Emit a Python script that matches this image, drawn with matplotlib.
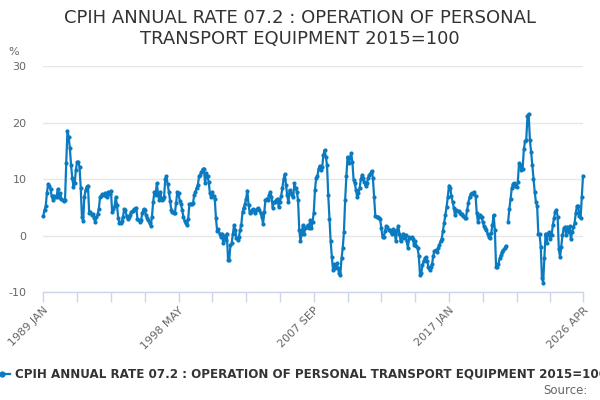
import matplotlib
matplotlib.use("Agg")
import matplotlib.pyplot as plt
from matplotlib.lines import Line2D
import numpy as np
import pandas as pd

# ---- data (monthly annual rate, %) ----
first_month = "1989-01"
values_1989_1995 = [
    3.5, 4.6, 5.2, 7.6, 9.2, 8.8, 8.2, 7.0, 6.4, 7.1, 6.8, 6.9,
    8.3, 6.8, 7.6, 6.5, 6.3, 6.2, 6.4, 12.9, 18.6, 17.5, 15.5, 12.5,
    10.2, 8.7, 9.3, 11.7, 13.1, 13.0, 12.2, 8.5, 3.3, 2.6, 6.9, 8.1,
    8.7, 8.9, 4.0, 4.3, 3.7, 3.9, 3.2, 2.5, 3.3, 3.8, 4.8, 6.8,
    7.0, 7.4, 7.2, 7.6, 7.0, 6.8, 7.8, 7.4, 8.0, 4.3, 4.8, 5.2,
    6.8, 5.5, 3.2, 2.2, 2.3, 2.6, 3.4, 4.7, 4.5, 3.5, 2.9, 3.4,
    3.7, 4.3, 4.4, 4.7, 4.8, 5.0, 3.0, 2.8, 2.5, 2.8, 4.0, 4.7,
]
values_1996_2002 = [
    4.6, 3.6, 3.1, 2.8, 2.2, 1.8, 3.4, 6.0, 7.8, 7.2, 9.3, 7.5,
    6.3, 7.8, 6.3, 6.6, 6.8, 10.0, 10.5, 9.2, 7.8, 6.2, 4.6, 4.3,
    4.1, 4.0, 5.8, 7.8, 7.5, 6.2, 5.6, 4.6, 3.4, 2.6, 2.2, 1.9,
    3.0, 5.6, 5.7, 5.7, 5.8, 7.2, 7.8, 8.5, 9.0, 10.5, 10.8, 11.3,
    11.8, 11.9, 9.3, 11.1, 10.5, 9.5, 7.5, 6.9, 7.8, 7.0, 6.6, 3.1,
    0.8, 1.2, 0.4, -0.2, 0.4, -1.3, -0.1, -0.7, 0.4, -4.2, -4.3, -1.6,
    -1.3, 0.3, 1.9, 1.0, -0.4, -0.7, -0.2, 1.0, 2.0, 4.2, 5.0, 5.6,
]
values_2003_2009 = [
    6.6, 8.0, 5.5, 4.0, 4.3, 4.5, 4.7, 4.1, 4.5, 4.7, 4.9, 4.5,
    4.0, 3.3, 2.1, 4.3, 6.3, 6.6, 6.3, 7.2, 7.8, 6.9, 5.0, 6.0,
    6.0, 6.3, 6.6, 5.1, 6.0, 7.0, 8.5, 10.0, 10.9, 9.0, 7.2, 6.0,
    8.1, 7.5, 7.2, 6.9, 9.3, 8.4, 7.8, 6.3, 1.0, -1.0, 0.4, 1.9,
    0.4, 1.3, 1.6, 1.9, 1.3, 2.8, 1.3, 2.5, 4.1, 8.1, 10.2, 10.5,
    11.9, 12.4, 11.7, 12.2, 14.3, 15.2, 14.0, 12.5, 7.2, 3.0, -1.0, -3.8,
    -6.1, -5.0, -5.7, -4.9, -5.7, -6.6, -6.9, -4.0, -2.2, 0.7, 6.3, 10.5,
]
values_2010_2016 = [
    14.0, 12.8, 13.7, 14.6, 13.0, 9.9, 9.3, 8.1, 6.8, 7.5, 8.5, 10.0,
    10.8, 10.2, 9.5, 8.8, 9.3, 10.2, 10.8, 11.1, 11.5, 10.2, 6.9, 3.5,
    3.3, 3.4, 3.2, 2.9, 1.3, -0.3, -0.2, 0.8, 1.7, 1.5, 1.0, 1.1,
    0.6, 0.4, 1.2, 0.8, -1.0, 1.0, 1.7, 0.3, -1.0, -0.2, 0.4, -0.4,
    0.2, -1.0, -2.2, -0.2, -0.4, -0.3, -0.5, -1.6, -1.0, -1.8, -2.2, -3.6,
    -6.9, -6.6, -5.2, -4.5, -4.0, -3.8, -4.5, -5.6, -6.1, -5.5, -5.0, -3.5,
    -2.7, -2.6, -2.8, -2.2, -1.6, -1.0, -0.5, 0.9, 2.3, 3.7, 5.1, 6.8,
]
values_2017_2026 = [
    8.9, 8.5, 7.0, 6.0, 5.0, 3.6, 4.6, 4.4, 4.4, 4.0, 3.9, 3.8,
    3.5, 3.2, 3.2, 4.5, 5.8, 6.8, 7.4, 7.6, 7.4, 7.8, 7.1, 4.0,
    2.5, 3.4, 3.7, 3.3, 2.4, 1.7, 1.3, 1.1, 0.3, -0.2, -0.4, 0.5,
    1.9, 3.7, 1.0, -5.5, -5.6, -5.0, -4.0, -3.4, -2.8, -2.5, -2.2, -1.8,
    None, 2.5, 4.8, 6.5, 8.4, 9.2, 9.3, 8.9, 8.6, 9.5, 12.8, 12.5,
    11.6, 11.9, 15.3, 16.7, 17.0, 21.2, 21.6, 17.0, 14.9, 12.5, 10.0, 7.8,
    6.0, 5.3, 0.4, 0.3, -1.9, -7.5, -8.3, -4.0, 0.4, -1.3, 0.4, 0.7,
    -0.6, 0.1, 1.9, 3.1, 4.3, 4.6, 3.4, -2.4, -3.8, -1.9, 0.1, 1.3,
    1.6, 0.1, 1.6, 0.7, 1.7, -0.6, 0.7, 1.5, 2.2, 4.0, 5.3, 5.3,
    3.5, 3.1, 6.9, 10.6,
]
labelled_months = ["1989 JAN", "1998 MAY", "2007 SEP", "2017 JAN", "2026 APR"]
y_ticks = [-10, 0, 10, 20, 30]
title_text = "CPIH ANNUAL RATE 07.2 : OPERATION OF PERSONAL\nTRANSPORT EQUIPMENT 2015=100"
series_name = "CPIH ANNUAL RATE 07.2 : OPERATION OF PERSONAL TRANSPORT EQUIPMENT 2015=100"

values = np.array(
    [np.nan if v is None else v for v in
     values_1989_1995 + values_1996_2002 + values_2003_2009 + values_2010_2016 + values_2017_2026],
    dtype=float)
months = pd.date_range(first_month, periods=len(values), freq="MS")
categories = [d.strftime("%Y %b").upper() for d in months]
x = np.arange(len(values))

# ---- styling ----
W, H = 600, 400
line_color = "#0b7bc1"
fig = plt.figure(figsize=(6, 4), dpi=100)
fig.patch.set_facecolor("white")
left, right, top, bottom = 43.3, 583.0, 66.3, 292.3
ax = fig.add_axes([left / W, 1 - bottom / H, (right - left) / W, (bottom - top) / H])

ax.plot(x, values, color=line_color, lw=1.6, marker="o", markersize=3.0,
        markeredgewidth=0, clip_on=False, zorder=3)

ax.set_xlim(0, len(values) - 1)
ax.set_ylim(-10, 30)
ax.set_yticks(y_ticks)
ax.set_yticklabels([str(t) for t in y_ticks])
ax.grid(axis="y", color="#e6e6e6", lw=1)
ax.set_axisbelow(True)
for s in ["top", "right", "left"]:
    ax.spines[s].set_visible(False)
ax.spines["bottom"].set_color("#ccd6eb")
ax.spines["bottom"].set_linewidth(1)
ax.tick_params(axis="y", length=0, pad=12, labelsize=8, labelcolor="#666666")

# x ticks every 28 months plus last
tick_pos = list(range(0, len(values) - 1, 28)) + [len(values) - 1]
tick_lab = [categories[p] if categories[p] in labelled_months else "" for p in tick_pos]
ax.set_xticks(tick_pos)
ax.set_xticklabels(tick_lab, rotation=45, ha="right", va="top", rotation_mode="anchor")
ax.tick_params(axis="x", length=7.2, width=1, color="#ccd6eb", pad=2,
               labelsize=8, labelcolor="#666666")

fig.text(14 / W, 1 - 52 / H, "%", ha="center", va="center", fontsize=8, color="#666666")

fig.text(0.5, 1 - 28.5 / H, title_text, ha="center", va="center", fontsize=13,
         color="#333333", linespacing=1.25)

# legend
fig.add_artist(Line2D([-6 / W, 10 / W], [1 - 374 / H, 1 - 374 / H], color=line_color, lw=1.6))
fig.add_artist(Line2D([2 / W], [1 - 374 / H], color=line_color, marker="o", markersize=3.5, lw=0))
fig.text(15 / W, 1 - 374 / H, series_name, ha="left", va="center", fontsize=8.55,
         fontweight="bold", color="#333333")
fig.text(588 / W, 1 - 390 / H, "Source:", ha="right", va="center", fontsize=8.5, color="#666666")

fig.savefig("out.png", dpi=100)
